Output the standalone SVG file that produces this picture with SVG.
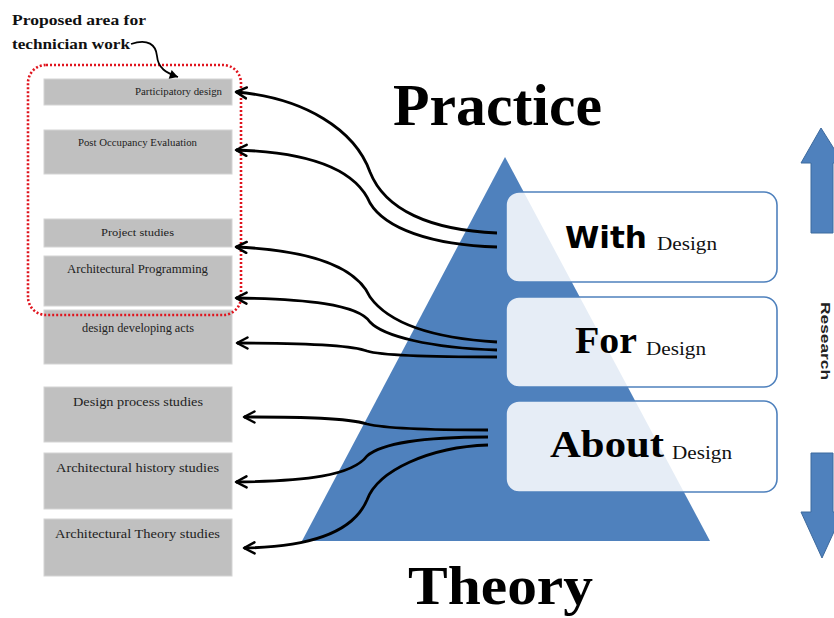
<svg xmlns="http://www.w3.org/2000/svg" width="834" height="618" viewBox="0 0 834 618">
<style>
.item{fill:#c0c0c0;stroke:#d4d4d4;stroke-width:1}
.it{font-family:"Liberation Serif","DejaVu Serif",serif;fill:#222;text-anchor:middle}
.conn{fill:none;stroke:#000;stroke-width:2.8;marker-end:url(#chev)}
.lvl{fill:#ffffff;fill-opacity:0.86;stroke:#4f81bd;stroke-width:1.6}
.big{font-family:"Liberation Serif","DejaVu Serif",serif;font-weight:bold;fill:#000}
.sm{font-family:"Liberation Serif","DejaVu Serif",serif;fill:#111}
.barrow{fill:#4f81bd;stroke:#3d6a9e;stroke-width:1}
</style>
<defs>
<marker id="chev" viewBox="0 0 14 14" refX="12" refY="7" markerWidth="14" markerHeight="14" markerUnits="userSpaceOnUse" orient="auto">
<path d="M1.5,1.5 L12,7 L1.5,12.5" fill="none" stroke="#000" stroke-width="2.5" stroke-linecap="round" stroke-linejoin="round"/>
</marker>
<marker id="chev2" viewBox="0 0 12 12" refX="10" refY="6" markerWidth="11" markerHeight="11" markerUnits="userSpaceOnUse" orient="auto">
<path d="M1,1 L10,6 L1,11 Z" fill="#000"/>
</marker>
</defs>
<rect width="834" height="618" fill="#fff"/>

<g id="triangle"><polygon points="505,157 302,541 710,541" fill="#4f81bd"/></g>

<g id="practice"><text class="big" x="393" y="125" font-size="60" textLength="209" lengthAdjust="spacingAndGlyphs">Practice</text></g>
<g id="theory"><text class="big" x="408" y="604" font-size="54" textLength="185" lengthAdjust="spacingAndGlyphs">Theory</text></g>

<g id="with"><rect class="lvl" x="506" y="192" width="271" height="90" rx="13"/>
<text x="565" y="248" font-family="'DejaVu Sans','Liberation Sans',sans-serif" font-weight="bold" font-size="31" textLength="82" lengthAdjust="spacingAndGlyphs">With</text>
<text class="sm" x="657" y="250" font-size="19" textLength="60" lengthAdjust="spacingAndGlyphs">Design</text></g>

<g id="for"><rect class="lvl" x="506" y="297" width="271" height="90" rx="13"/>
<text class="big" x="575" y="353" font-size="38" textLength="62" lengthAdjust="spacingAndGlyphs">For</text>
<text class="sm" x="646" y="355" font-size="19" textLength="60" lengthAdjust="spacingAndGlyphs">Design</text></g>

<g id="about"><rect class="lvl" x="506" y="401" width="271" height="91" rx="13"/>
<text class="big" x="550" y="457" font-size="38" textLength="114" lengthAdjust="spacingAndGlyphs">About</text>
<text class="sm" x="672" y="459" font-size="19" textLength="60" lengthAdjust="spacingAndGlyphs">Design</text></g>

<g id="research-up"><polygon class="barrow" points="821,128 843,163 833,163 833,233 811,233 811,163 801,163"/></g>
<g id="research-down"><polygon class="barrow" points="811,453 833,453 833,512 843,512 822,558 801,512 811,512"/></g>
<g id="research-label"><text x="821" y="302" transform="rotate(90 821 302)" font-family="'Liberation Sans','DejaVu Sans',sans-serif" font-weight="bold" font-size="13" fill="#222" textLength="78" lengthAdjust="spacingAndGlyphs">Research</text></g>

<g id="participatory"><rect class="item" x="44" y="79" width="188" height="26"/><text class="it" x="178.5" y="95" font-size="10" textLength="87" lengthAdjust="spacingAndGlyphs">Participatory design</text></g>
<g id="poe"><rect class="item" x="44" y="130" width="188" height="44"/><text class="it" x="137.5" y="146" font-size="10" textLength="119" lengthAdjust="spacingAndGlyphs">Post Occupancy Evaluation</text></g>
<g id="project"><rect class="item" x="44" y="219" width="188" height="28"/><text class="it" x="137.5" y="236" font-size="11" textLength="73" lengthAdjust="spacingAndGlyphs">Project studies</text></g>
<g id="programming"><rect class="item" x="44" y="256" width="188" height="50"/><text class="it" x="137.5" y="273" font-size="11.5" textLength="141" lengthAdjust="spacingAndGlyphs">Architectural Programming</text></g>
<g id="developing"><rect class="item" x="44" y="310" width="188" height="54"/><text class="it" x="138" y="332" font-size="11.5" textLength="112" lengthAdjust="spacingAndGlyphs">design developing acts</text></g>
<g id="process"><rect class="item" x="44" y="387" width="188" height="55"/><text class="it" x="138" y="406" font-size="13" textLength="130" lengthAdjust="spacingAndGlyphs">Design process studies</text></g>
<g id="history"><rect class="item" x="44" y="453" width="188" height="56"/><text class="it" x="137.5" y="472" font-size="13" textLength="163" lengthAdjust="spacingAndGlyphs">Architectural history studies</text></g>
<g id="theorystudies"><rect class="item" x="44" y="519" width="188" height="57"/><text class="it" x="137.5" y="538" font-size="13" textLength="165" lengthAdjust="spacingAndGlyphs">Architectural Theory studies</text></g>

<g id="technician-area">
<rect x="28" y="65" width="213" height="250" rx="18" fill="none" stroke="#e0141e" stroke-width="2.6" stroke-dasharray="2 2"/>
<text x="12" y="25" font-family="'Liberation Serif','DejaVu Serif',serif" font-weight="bold" font-size="15" fill="#111" textLength="134" lengthAdjust="spacingAndGlyphs">Proposed area for</text>
<text x="12" y="49" font-family="'Liberation Serif','DejaVu Serif',serif" font-weight="bold" font-size="15" fill="#111" textLength="118" lengthAdjust="spacingAndGlyphs">technician work</text>
<path d="M131,44 C148,38 156,45 157,56 C158,68 166,73 178,77" fill="none" stroke="#000" stroke-width="1.8" marker-end="url(#chev2)"/>
</g>

<g id="connectors">
<path class="conn" d="M497,233 C430,230 385,210 370,172 C355,130 305,98 236,92"/>
<path class="conn" d="M497,247 C430,245 385,228 370,203 C355,168 305,152 236,150"/>
<path class="conn" d="M497,342 C430,338 388,322 370,297 C355,264 305,250 236,247"/>
<path class="conn" d="M497,350 C430,348 383,336 370,322 C358,304 305,299 236,298"/>
<path class="conn" d="M497,357 C430,357 383,356 367,351 C352,345 305,343 237,343"/>
<path class="conn" d="M488,430 C430,430 388,429 367,424 C347,418 305,417 244,417"/>
<path class="conn" d="M488,437 C430,437 383,442 367,456 C352,476 305,481 236,482"/>
<path class="conn" d="M488,445 C430,447 378,470 367,500 C352,535 305,547 244,548"/>
</g>
</svg>
